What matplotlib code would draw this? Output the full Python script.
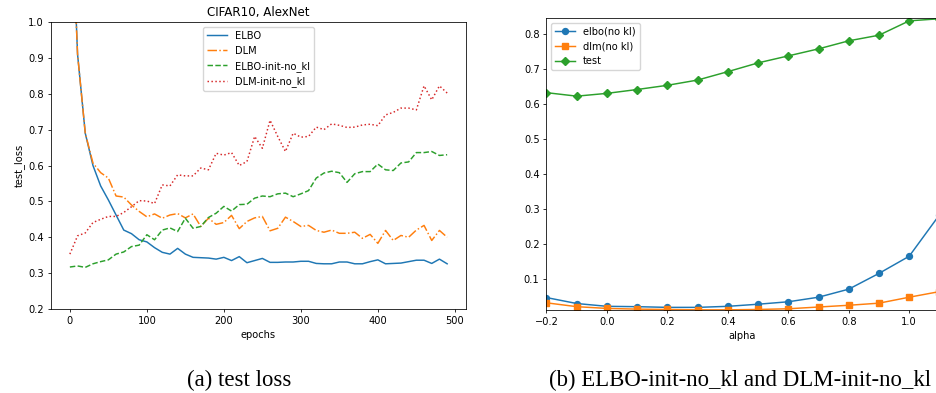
import numpy as np
import matplotlib
matplotlib.use("Agg")
import matplotlib.pyplot as plt

# 그림 전체 크기 축소 비율 (원본은 작게 축소된 그림)
s = 0.71
plt.rcParams.update({
    "font.size": 10 * s,
    "axes.titlesize": 12 * s,
    "axes.labelsize": 10 * s,
    "xtick.labelsize": 10 * s,
    "ytick.labelsize": 10 * s,
    "legend.fontsize": 10 * s,
    "lines.linewidth": 1.5 * s,
    "lines.markersize": 6 * s,
    "axes.linewidth": 0.8 * s,
    "xtick.major.size": 3.5 * s,
    "ytick.major.size": 3.5 * s,
    "xtick.major.width": 0.8 * s,
    "ytick.major.width": 0.8 * s,
    "xtick.major.pad": 3.5 * s,
    "ytick.major.pad": 3.5 * s,
    "axes.titlepad": 6 * s,
    "axes.labelpad": 4 * s,
})

# (a) test loss 데이터
epochs = list(range(0, 500, 10))
elbo = [1.45, 0.91, 0.69, 0.60, 0.543, 0.504, 0.462, 0.42, 0.41, 0.393,
        0.387, 0.371, 0.358, 0.353, 0.369, 0.353, 0.344, 0.343, 0.342, 0.339,
        0.344, 0.335, 0.346, 0.329, 0.335, 0.341, 0.330, 0.330, 0.331, 0.331,
        0.333, 0.333, 0.327, 0.326, 0.326, 0.331, 0.331, 0.326, 0.326, 0.332,
        0.337, 0.326, 0.327, 0.328, 0.332, 0.336, 0.336, 0.327, 0.339, 0.326]
dlm = [1.42, 0.91, 0.69, 0.607, 0.58, 0.565, 0.515, 0.512, 0.49, 0.472,
       0.457, 0.465, 0.453, 0.462, 0.466, 0.454, 0.465, 0.430, 0.453, 0.436,
       0.441, 0.461, 0.424, 0.444, 0.454, 0.458, 0.418, 0.425, 0.456, 0.444,
       0.430, 0.433, 0.419, 0.414, 0.420, 0.411, 0.411, 0.414, 0.397, 0.408,
       0.383, 0.419, 0.391, 0.405, 0.400, 0.420, 0.433, 0.391, 0.419, 0.400]
elbo_init = [0.317, 0.320, 0.316, 0.326, 0.332, 0.337, 0.353, 0.359, 0.374, 0.378,
             0.407, 0.393, 0.420, 0.426, 0.416, 0.453, 0.425, 0.430, 0.455, 0.467,
             0.486, 0.473, 0.491, 0.492, 0.509, 0.515, 0.513, 0.521, 0.523, 0.513,
             0.521, 0.530, 0.565, 0.579, 0.584, 0.580, 0.553, 0.577, 0.583, 0.583,
             0.604, 0.588, 0.586, 0.607, 0.610, 0.636, 0.636, 0.639, 0.628, 0.630]
dlm_init = [0.353, 0.404, 0.412, 0.441, 0.450, 0.458, 0.458, 0.469, 0.485, 0.502,
            0.501, 0.494, 0.546, 0.543, 0.574, 0.571, 0.571, 0.593, 0.588, 0.634,
            0.629, 0.636, 0.600, 0.611, 0.681, 0.648, 0.726, 0.681, 0.639, 0.690,
            0.679, 0.681, 0.707, 0.700, 0.716, 0.712, 0.706, 0.707, 0.713, 0.715,
            0.711, 0.741, 0.748, 0.760, 0.760, 0.755, 0.822, 0.783, 0.822, 0.802]

# (b) alpha 데이터
alpha = [-0.2, -0.1, 0.0, 0.1, 0.2, 0.3, 0.4, 0.5, 0.6, 0.7, 0.8, 0.9, 1.0, 1.1]
elbo_nokl = [0.047, 0.030, 0.022, 0.021, 0.019, 0.019, 0.022, 0.028, 0.035,
             0.048, 0.071, 0.116, 0.165, 0.283]
dlm_nokl = [0.032, 0.021, 0.016, 0.014, 0.013, 0.012, 0.012, 0.013, 0.015,
            0.020, 0.025, 0.031, 0.048, 0.064]
test = [0.632, 0.622, 0.630, 0.641, 0.653, 0.668, 0.692, 0.717, 0.737,
        0.757, 0.780, 0.796, 0.837, 0.843]

fig = plt.figure(figsize=(9.37, 3.93), dpi=100)

# 왼쪽 그래프
ax1 = fig.add_axes([51 / 937, 84 / 393, 415 / 937, 287 / 393])
ax1.plot(epochs, elbo, color="tab:blue", linestyle="-", label="ELBO")
ax1.plot(epochs, dlm, color="tab:orange", linestyle="-.", label="DLM")
ax1.plot(epochs, elbo_init, color="tab:green", linestyle="--", label="ELBO-init-no_kl")
ax1.plot(epochs, dlm_init, color="tab:red", linestyle=":", label="DLM-init-no_kl")
ax1.set_ylim(0.2, 1.0)
ax1.set_xlim(-24.5, 514.5)
ax1.set_xticks([0, 100, 200, 300, 400, 500])
ax1.set_yticks(np.arange(0.2, 1.01, 0.1))
ax1.set_title("CIFAR10, AlexNet")
ax1.set_xlabel("epochs")
ax1.set_ylabel("test_loss")
ax1.legend(loc="upper center")

# 오른쪽 그래프 (원본에서 오른쪽이 잘려 있음)
ax2 = fig.add_axes([546.5 / 937, 83 / 393, 390.5 / 937, 292.3 / 393])
ax2.plot(alpha, elbo_nokl, color="tab:blue", marker="o", label="elbo(no kl)")
ax2.plot(alpha, dlm_nokl, color="tab:orange", marker="s", label="dlm(no kl)")
ax2.plot(alpha, test, color="tab:green", marker="D", label="test")
ax2.set_xlim(-0.2, 1.092)
ax2.set_ylim(0.0115, 0.846)
ax2.set_xticks([-0.2, 0.0, 0.2, 0.4, 0.6, 0.8, 1.0])
ax2.set_yticks([0.1, 0.2, 0.3, 0.4, 0.5, 0.6, 0.7, 0.8])
ax2.spines["right"].set_visible(False)
ax2.set_xlabel("alpha")
ax2.legend(loc="upper left")

# 캡션
fig.text(239 / 937, 1 - 380 / 393, "(a) test loss", ha="center", va="center",
         family="Liberation Serif", fontsize=16.4)
fig.text(740 / 937, 1 - 380 / 393, "(b) ELBO-init-no_kl and DLM-init-no_kl",
         ha="center", va="center", family="Liberation Serif", fontsize=16.4)

fig.savefig("out.png", dpi=100)
